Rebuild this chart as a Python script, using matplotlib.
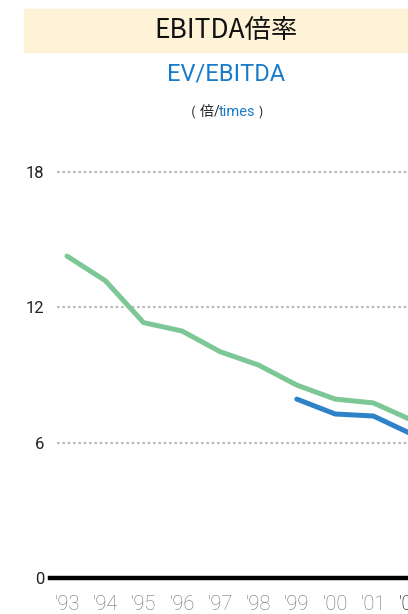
import matplotlib
matplotlib.use("Agg")
import matplotlib.pyplot as plt
from matplotlib.patches import Rectangle

years = [1993, 1994, 1995, 1996, 1997, 1998, 1999, 2000, 2001, 2002]
year_labels = ["'93", "'94", "'95", "'96", "'97", "'98", "'99", "'00", "'01", "'02"]
green_vals = [14.27, 13.18, 11.32, 10.95, 10.03, 9.44, 8.55, 7.93, 7.76, 7.0]
blue_years = [1999, 2000, 2001, 2002]
blue_vals = [7.93, 7.27, 7.18, 6.38]
yticks = [0, 6, 12, 18]

W, H = 408, 614
fig = plt.figure(figsize=(W / 100, H / 100), dpi=100)
narrow = ["Roboto", "DejaVu Sans"]
cjk = ["Noto Sans CJK JP", "DejaVu Sans"]

# title band
fig.patches.append(Rectangle((24 / W, 1 - 52 / H), (W - 24) / W, 43 / H,
                             transform=fig.transFigure, color="#FEF3D7", zorder=0))
fig.text(226 / W, 1 - 31 / H, "EBITDA倍率", ha="center", va="center",
         fontsize=19, family=cjk, color="#111111")
fig.text(226 / W, 1 - 74 / H, "EV/EBITDA", ha="center", va="center",
         fontsize=17, family=narrow, color="#1A7CC9")

# unit line: ( 倍/times ), pieces chained left to right
pieces = [("(", cjk, "#222222", 9.5), ("倍", cjk, "#222222", 10),
          ("/", narrow, "#222222", 10), ("times", narrow, "#1A7CC9", 10.5),
          (")", cjk, "#222222", 9.5)]
gaps = [4, 0, 0, 3, 0]
renderer = fig.canvas.get_renderer()
x = 191
y_u = 1 - 112 / H
for (s, fam, col, fs), g in zip(pieces, gaps):
    t = fig.text(x / W, y_u, s, ha="left", va="center", fontsize=fs,
                 family=fam, color=col)
    bb = t.get_window_extent(renderer)
    x += bb.width + g

# axes: '93 at x=67px, step 38.3px; 0 at y=578px, 22.56px per unit
step = 38.3
x0, x1 = 1993 - 17 / step, 2002.6
ax_left = 50
ax_right = 67 + step * (x1 - 1993)
ppu = 22.56
y_top = 19.5
ax = fig.add_axes([ax_left / W, (H - 578) / H, (ax_right - ax_left) / W, y_top * ppu / H])
ax.set_xlim(x0, x1)
ax.set_ylim(0, y_top)

grid_start = 1993 - 10 / step
for v in yticks[1:]:
    ax.hlines(v, grid_start, x1, colors="#BDBDBD", lw=1.6, linestyles=(0, (1.2, 1.2)))
ax.axhline(0, color="black", lw=3.2, clip_on=False, zorder=5)

ax.plot(years, green_vals, color="#7DC796", lw=3.6, solid_capstyle="round",
        solid_joinstyle="round", zorder=3)
ax.plot(blue_years, blue_vals, color="#2E82C8", lw=3.6, solid_capstyle="round",
        solid_joinstyle="round", zorder=4)

for s in ax.spines.values():
    s.set_visible(False)
ax.set_yticks(yticks)
ax.set_yticklabels([str(v) for v in yticks], family=narrow,
                   fontsize=12, color="#222222")
ax.set_xticks(years)
ax.set_xticklabels(year_labels, family=narrow, weight="light", fontsize=14.5)
for lbl in ax.get_xticklabels():
    lbl.set_color("#707070")
ax.get_xticklabels()[-1].set_color("#000000")
ax.tick_params(axis="both", length=0)
ax.tick_params(axis="y", pad=4)
ax.tick_params(axis="x", pad=12.5)

fig.savefig("out.png", dpi=100)
